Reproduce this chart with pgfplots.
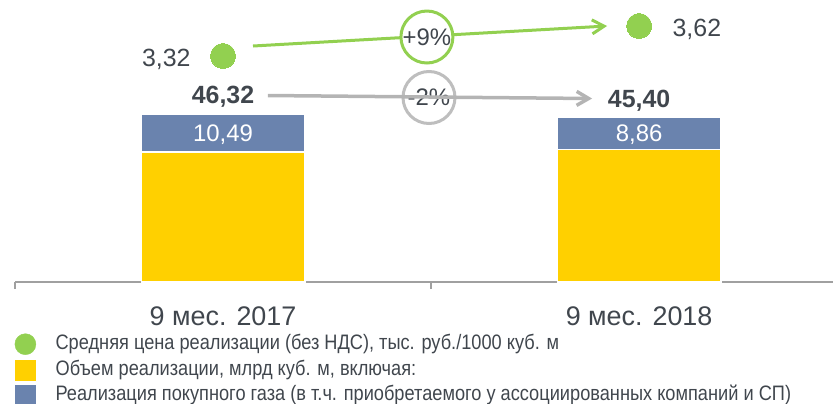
\documentclass[border=0pt]{standalone}
\usepackage{pgfplots}
\pgfplotsset{compat=1.18}
\usetikzlibrary{arrows.meta}
\usepackage{fontspec}
\setmainfont{Liberation Sans}
\newfontfamily\narrowfont{Liberation Sans}[FakeStretch=0.87]

\definecolor{baryellow}{RGB}{255,208,0}
\definecolor{barblue}{RGB}{106,131,174}
\definecolor{pricegreen}{RGB}{146,208,80}
\definecolor{arrowgray}{RGB}{180,180,180}
\definecolor{circlegray}{RGB}{190,190,190}
\definecolor{axisgray}{RGB}{160,160,160}
\definecolor{txt}{RGB}{64,70,77}

\begin{document}
\begin{tikzpicture}
% volumes, bln m3
\begin{axis}[
    scale only axis, width=818bp, height=282bp,
    xmin=-0.5, xmax=1.466, ymin=0, ymax=77.69,
    ybar stacked, bar width=0.393,
    axis x line*=bottom, axis y line=none,
    x axis line style={draw=axisgray, line width=1.5bp, -},
    xtick={0,1}, xticklabels={9 мес. 2017, 9 мес. 2018},
    major tick length=0pt,
    tick style={draw=axisgray, line width=1.5bp},
    extra x ticks={-0.5,0.5}, extra x tick labels={},
    extra x tick style={major tick length=7bp, tick align=outside},
    xticklabel style={font=\fontsize{27}{30}\selectfont, text=txt, anchor=base, yshift=-43bp},
    clip=false,
]
\addplot[fill=baryellow, draw=white, line width=1.5bp] coordinates {(0,35.83) (1,36.54)};
\addplot[fill=barblue, draw=white, line width=1.5bp] coordinates {(0,10.49) (1,8.86)};

\coordinate (BL) at (rel axis cs:0,0);
\coordinate (TR) at (rel axis cs:1,1);

\node[font=\bfseries\fontsize{25}{28}\selectfont, text=txt, anchor=base, yshift=10bp] at (axis cs:0,46.32) {46,32};
\node[font=\bfseries\fontsize{25}{28}\selectfont, text=txt, anchor=base, yshift=10bp] at (axis cs:1,45.40) {45,40};

\draw[arrowgray, line width=3.5bp, -{Straight Barb[length=12bp,width=14bp]}] (axis cs:0.108,51.38) -- (axis cs:0.887,50.55);
\node[circle, draw=circlegray, line width=3bp, fill=white, minimum size=52bp, inner sep=0pt,
      font=\fontsize{24}{26}\selectfont, text=txt] at (axis cs:0.495,50.83) {-2\%};
\end{axis}

% average price, thousand rub / 1000 m3
\begin{axis}[
    scale only axis, width=818bp, height=282bp,
    xmin=-0.5, xmax=1.466, ymin=1.06, ymax=3.88,
    hide axis, clip=false,
    legend cell align=left,
    legend style={at={(rel axis cs:0,0)}, anchor=north west, xshift=-0.5bp, yshift=-51bp,
        draw=none, fill=none, inner sep=0pt, row sep=3.5bp, column sep=19.5bp,
        font=\narrowfont\fontsize{21}{25}\selectfont, text=txt,
        nodes={inner sep=0pt, text height=16.5bp, text depth=5.5bp}},
]
\addplot[only marks, color=pricegreen, mark=*, mark size=12.5bp,
    mark options={fill=pricegreen, draw=pricegreen, line width=0pt},
    legend image code/.code={\fill[pricegreen] (10bp,0bp) circle (10.5bp);}]
    coordinates {(0,3.32) (1,3.62)};
\addlegendentry{Средняя цена реализации (без НДС), тыс. руб./1000 куб. м}
\addlegendimage{legend image code/.code={\fill[baryellow] (0bp,-10bp) rectangle (20bp,10bp);}}
\addlegendentry{Объем реализации, млрд куб. м, включая:}
\addlegendimage{legend image code/.code={\fill[barblue] (0bp,-10bp) rectangle (20bp,10bp);}}
\addlegendentry{Реализация покупного газа (в т.ч. приобретаемого у ассоциированных компаний и СП)}

% labels of the purchased-gas segments (drawn here, on top of the bars)
\node[font=\fontsize{24}{26}\selectfont, text=white, anchor=base, yshift=-8.5bp] at (axis cs:0,2.551) {10,49};
\node[font=\fontsize{24}{26}\selectfont, text=white, anchor=base, yshift=-8.5bp] at (axis cs:1,2.547) {8,86};

\node[font=\fontsize{25}{28}\selectfont, text=txt, anchor=base east, xshift=-29bp, yshift=-10bp] at (axis cs:0,3.32) {3,32};
\node[font=\fontsize{25}{28}\selectfont, text=txt, anchor=base west, xshift=30bp, yshift=-10bp] at (axis cs:1,3.62) {3,62};

\draw[pricegreen, line width=3bp, -{Straight Barb[length=12bp,width=14bp]}] (axis cs:0.072,3.42) -- (axis cs:0.923,3.62);
\node[circle, draw=pricegreen, line width=3bp, fill=white, minimum size=52bp, inner sep=0pt,
      font=\fontsize{24}{26}\selectfont, text=txt] at (axis cs:0.490,3.51) {+9\%};
\end{axis}

\pgfresetboundingbox
\path ([shift={(-15bp,-121bp)}]BL) rectangle (TR);
\end{tikzpicture}
\end{document}
